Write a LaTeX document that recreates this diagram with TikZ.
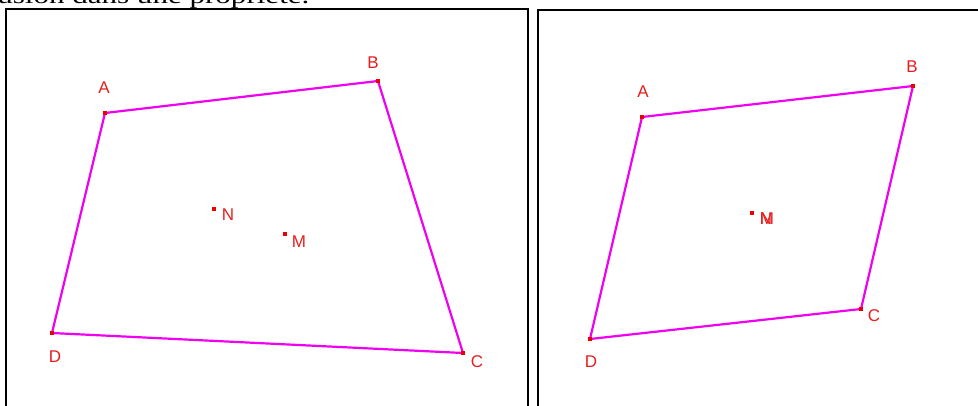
\documentclass[tikz,border=0pt]{standalone}
\usepackage{fontspec}
\setmainfont{Liberation Serif}
\newfontfamily\labfont{Liberation Sans}
\definecolor{mag}{RGB}{240,0,240}
\definecolor{ptred}{RGB}{235,0,0}
\definecolor{labred}{RGB}{230,30,30}
\begin{document}
\begin{tikzpicture}[x=1pt,y=-1pt,
  side/.style={draw=mag, line width=2.2pt},
  pt/.style={inner sep=0pt, minimum size=0pt, draw=none},
  lab/.style={text=labred, font=\labfont\fontsize{17}{17}\selectfont, inner sep=0pt},
  frame/.style={draw=black, line width=2pt}]
\useasboundingbox (0,0) rectangle (978,405);
\clip (0,0) rectangle (978,405);
\fill[white] (0,0) rectangle (978,405);
% cut-off text line
\node[anchor=base west, inner sep=0pt, font=\fontsize{23}{23}\selectfont, xscale=1.35, transform shape] (txt) at (-3,3) {usion dans une propriété.};
% frames
\draw[frame] (6,420) -- (6,9) -- (528,9) -- (528,420);
\draw[frame] (538,420) -- (538,10) -- (990,10);
% left quadrilateral
\node[pt] (A1) at (105,113) {};
\node[pt] (B1) at (378,81) {};
\node[pt] (C1) at (463,353) {};
\node[pt] (D1) at (52,333) {};
\node[pt] (N1) at (214,209) {};
\node[pt] (M1) at (285,234) {};
\draw[side] (A1.center) -- (B1.center) -- (C1.center) -- (D1.center) -- cycle;
\foreach \p in {A1,B1,C1,D1,N1,M1} \fill[ptred] (\p.center) +(-2.2,-2.2) rectangle +(2.2,2.2);
\node[lab] (lA1) at (104,88) {A};
\node[lab] (lB1) at (373,63) {B};
\node[lab] (lC1) at (477,362) {C};
\node[lab] (lD1) at (55,357) {D};
\node[lab] (lN1) at (228,215) {N};
\node[lab] (lM1) at (299,242) {M};
% right quadrilateral
\node[pt] (A2) at (642,117) {};
\node[pt] (B2) at (913,86) {};
\node[pt] (C2) at (861,309) {};
\node[pt] (D2) at (590,339) {};
\node[pt] (N2) at (752,213) {};
\draw[side] (A2.center) -- (B2.center) -- (C2.center) -- (D2.center) -- cycle;
\foreach \p in {A2,B2,C2,D2,N2} \fill[ptred] (\p.center) +(-2.2,-2.2) rectangle +(2.2,2.2);
\node[lab] (lA2) at (643,92) {A};
\node[lab] (lB2) at (912,67) {B};
\node[lab] (lC2) at (874,316) {C};
\node[lab] (lD2) at (591,362) {D};
\node[lab] (lN2) at (766,219) {N};
\node[lab] (lM2) at (767,219) {M};
\end{tikzpicture}
\end{document}
